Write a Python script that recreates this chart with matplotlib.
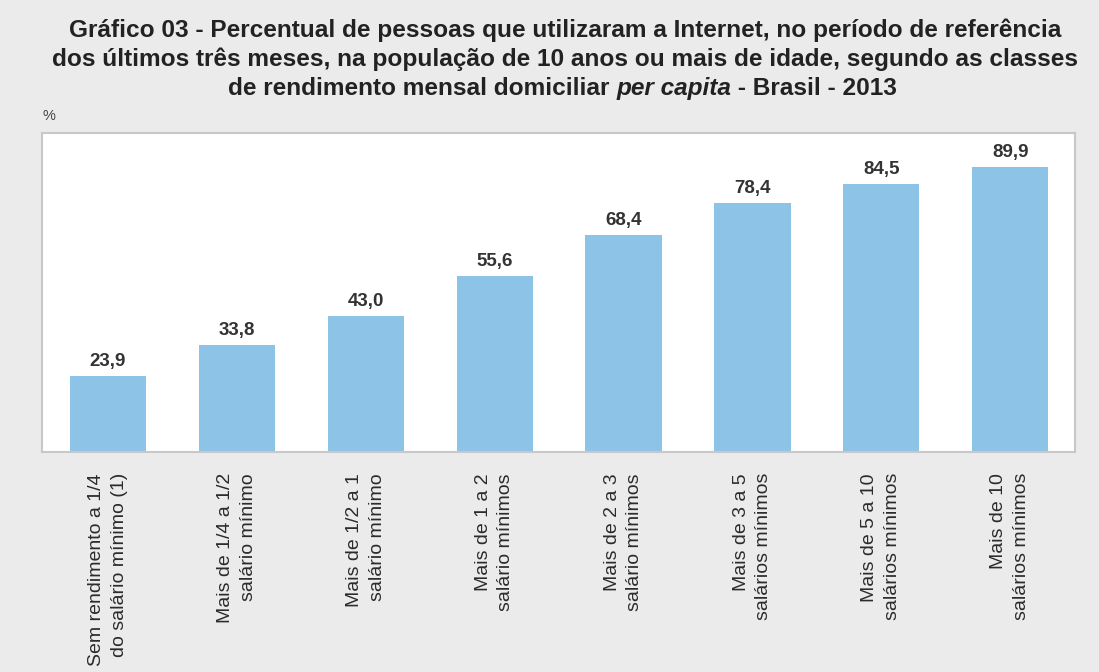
import matplotlib.pyplot as plt

# data
categories = [
    'Sem rendimento a 1/4\ndo salário mínimo (1)',
    'Mais de 1/4 a 1/2\nsalário mínimo',
    'Mais de 1/2 a 1\nsalário mínimo',
    'Mais de 1 a 2\nsalário mínimos',
    'Mais de 2 a 3\nsalário mínimos',
    'Mais de 3 a 5\nsalários mínimos',
    'Mais de 5 a 10\nsalários mínimos',
    'Mais de 10\nsalários mínimos',
]
values = [23.9, 33.8, 43.0, 55.6, 68.4, 78.4, 84.5, 89.9]

title_lines = [
    'Gráfico 03 - Percentual de pessoas que utilizaram a Internet, no período de referência',
    'dos últimos três meses, na população de 10 anos ou mais de idade, segundo as classes',
]
title_last = ['de rendimento mensal domiciliar ', 'per capita', ' - Brasil - 2013']

BG = '#ebebec'
BAR = '#8ec3e8'
TEXT = '#2b2b2b'
FONT = 'Liberation Sans'

fig = plt.figure(figsize=(10.99, 6.72), dpi=100, facecolor=BG)
ax = fig.add_axes([0.0382, 0.327, 0.9398, 0.475])
ax.set_facecolor('white')

x = range(len(values))
bars = ax.bar(x, values, width=0.59, color=BAR, zorder=2)

for bar, v in zip(bars, values):
    ax.text(bar.get_x() + bar.get_width() / 2, v + 3.2, f'{v:.1f}'.replace('.', ','),
            ha='center', va='baseline', fontsize=13.5, fontweight='semibold',
            color='#333333', family=FONT)

ax.set_xlim(-0.51, 7.5)
ax.set_ylim(0, 100.6)
ax.set_yticks([])
ax.set_xticks(list(x))
ax.set_xticklabels(categories, rotation=90, ha='center', va='top',
                   multialignment='right', fontsize=14, color=TEXT,
                   family=FONT, linespacing=1.45)
ax.tick_params(axis='x', length=0, pad=15)
for s in ax.spines.values():
    s.set_color('#c8c8c8')
    s.set_linewidth(1.5)

# title: two plain lines, then a third line with italic "per capita"
tkw = dict(fontsize=17.6, fontweight='bold', color='#222222', family=FONT)
for i, line in enumerate(title_lines):
    fig.text(0.514, 1 - (37 + 29 * i) / 672, line, ha='center', va='baseline', **tkw)

y3 = 1 - 95 / 672
parts = [fig.text(0, y3, s, ha='left', va='baseline',
                  style='italic' if s == 'per capita' else 'normal', **tkw)
         for s in title_last]
renderer = fig.canvas.get_renderer()
widths = [p.get_window_extent(renderer).width / fig.bbox.width for p in parts]
xpos = 0.512 - sum(widths) / 2
for p, w in zip(parts, widths):
    p.set_x(xpos)
    xpos += w

fig.text(0.039, 1 - 120 / 672, '%', ha='left', va='baseline', fontsize=10.5,
         color='#444444', family=FONT)

fig.savefig('out.png', dpi=100, facecolor=BG)
